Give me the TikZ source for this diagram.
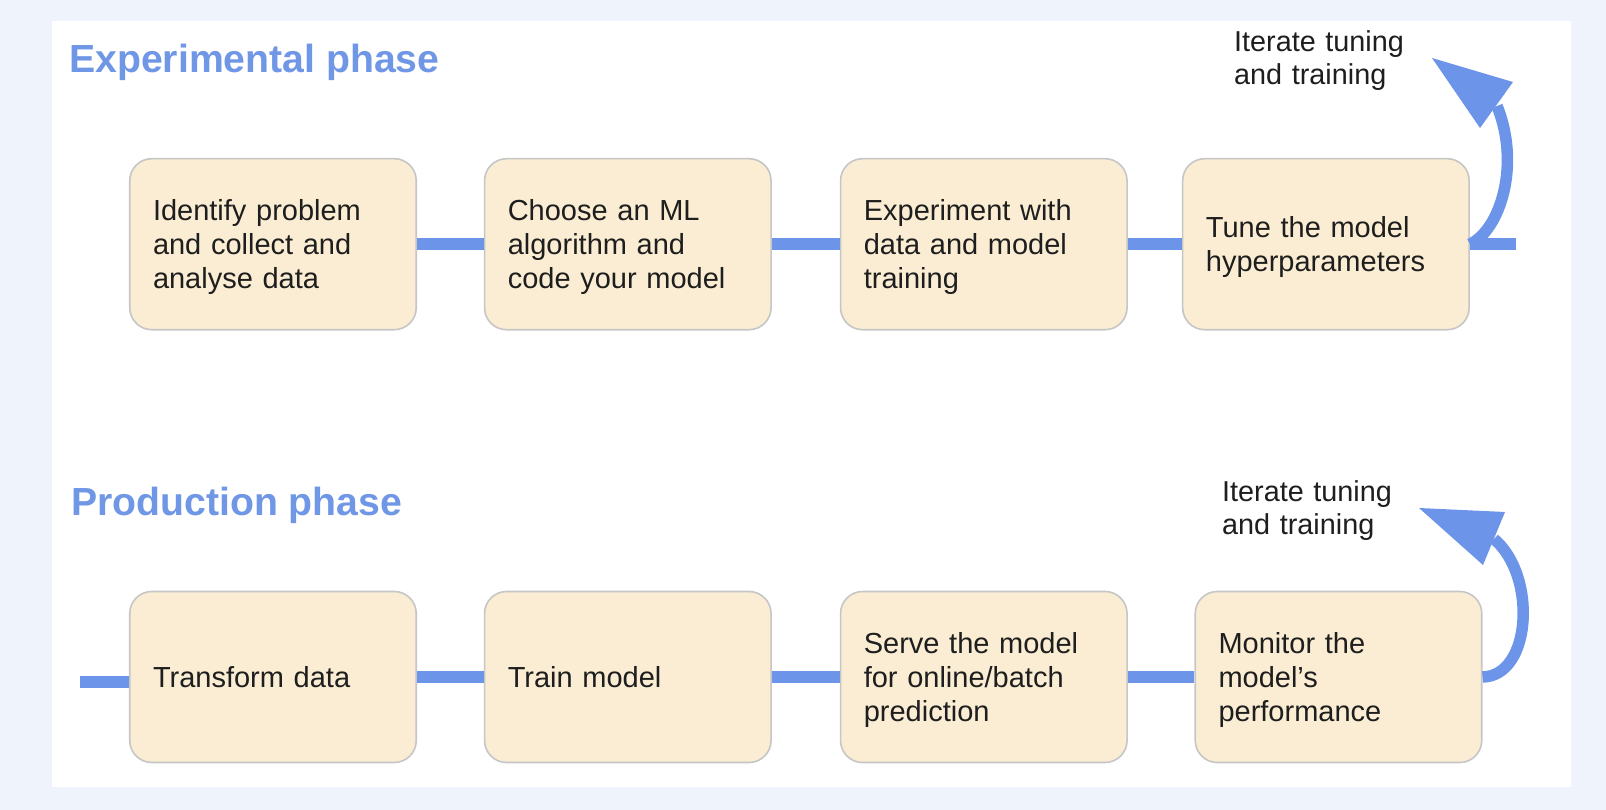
\documentclass[tikz,border=0pt]{standalone}
\usepackage{fontspec}
\setmainfont{Liberation Sans}
\definecolor{pagebg}{HTML}{EEF3FC}
\definecolor{boxfill}{HTML}{FAEDD3}
\definecolor{boxline}{HTML}{C6C6C6}
\definecolor{flow}{HTML}{6C94E8}
\definecolor{heading}{HTML}{6F97E6}
\definecolor{ink}{HTML}{1E1E1E}
\begin{document}
\begin{tikzpicture}[x=1pt,y=-1pt,
  stepbox/.style={draw=boxline, line width=1.6pt, fill=boxfill,
    rounded corners=22pt, minimum width=286.5pt, minimum height=171pt,
    text width=240pt, inner xsep=23pt, inner ysep=0pt, align=left,
    font=\fontsize{29}{34}\selectfont, text=ink, text height=20pt},
  lines1/.style={text depth=0pt},
  lines2/.style={text depth=34pt},
  lines3/.style={text depth=68pt},
  link/.style={draw=flow, line width=11.5pt},
  phase/.style={anchor=base west, inner sep=0pt, text=heading,
    font=\fontsize{39.2}{44}\selectfont\bfseries},
  note/.style={anchor=base west, inner sep=0pt, text=ink, text width=220pt,
    align=left, font=\fontsize{28.8}{33}\selectfont}
]
% page and panel
\fill[pagebg] (0,0) rectangle (1606,810);
\fill[white] (52,21) rectangle (1571,787);
\useasboundingbox (0,0) rectangle (1606,810);

% headings
\node[phase] (hexp) at (69,72.7) {Experimental phase};
\node[phase] (hprod) at (71,515) {Production phase};

% experimental phase steps
\node[stepbox, lines3] (e1) at (273,244.2) {Identify problem\\and collect and\\analyse data};
\node[stepbox, lines3] (e2) at (627.8,244.2) {Choose an ML\\algorithm and\\code your model};
\node[stepbox, lines3] (e3) at (983.8,244.2) {Experiment with\\data and model\\training};
\node[stepbox, lines2] (e4) at (1325.9,244.2) {Tune the model\\hyperparameters};

\draw[link] (e1.east) -- (e2.west);
\draw[link] (e2.east) -- (e3.west);
\draw[link] (e3.east) -- (e4.west);
\coordinate (eout) at (1516,244.2);
\draw[link] (e4.east) -- (eout);

% loop back arrow (experimental)
\coordinate (ebase) at (1497,106);
\coordinate (etip) at (1432,58);
\coordinate (ewa) at (1513,82);
\coordinate (ewb) at (1480,128);
\draw[link] (e4.east) .. controls (1500,230) and (1521,165) .. (ebase);
\fill[flow] (etip) -- (ewa) -- (ewb) -- cycle;
\node[note] (elabel) at (1234,51.7) {Iterate tuning\\and training};

% production phase steps
\node[stepbox, lines1] (p1) at (273,677) {Transform data};
\node[stepbox, lines1] (p2) at (627.8,677) {Train model};
\node[stepbox, lines3] (p3) at (983.8,677) {Serve the model\\for online/batch\\prediction};
\node[stepbox, lines3] (p4) at (1338.5,677) {Monitor the\\model’s\\performance};

\coordinate (pin) at (80,682);
\draw[link] (pin) -- (pin -| p1.west);
\draw[link] (p1.east) -- (p2.west);
\draw[link] (p2.east) -- (p3.west);
\draw[link] (p3.east) -- (p4.west);

% loop back arrow (production)
\coordinate (pbase) at (1494,539);
\coordinate (ptip) at (1419,508);
\coordinate (pwa) at (1505,512);
\coordinate (pwb) at (1483,565);
\draw[link] (p4.east) .. controls (1532,676) and (1537,575) .. (pbase);
\fill[flow] (ptip) -- (pwa) -- (pwb) -- cycle;
\node[note] (plabel) at (1222,501.7) {Iterate tuning\\and training};
\end{tikzpicture}
\end{document}
